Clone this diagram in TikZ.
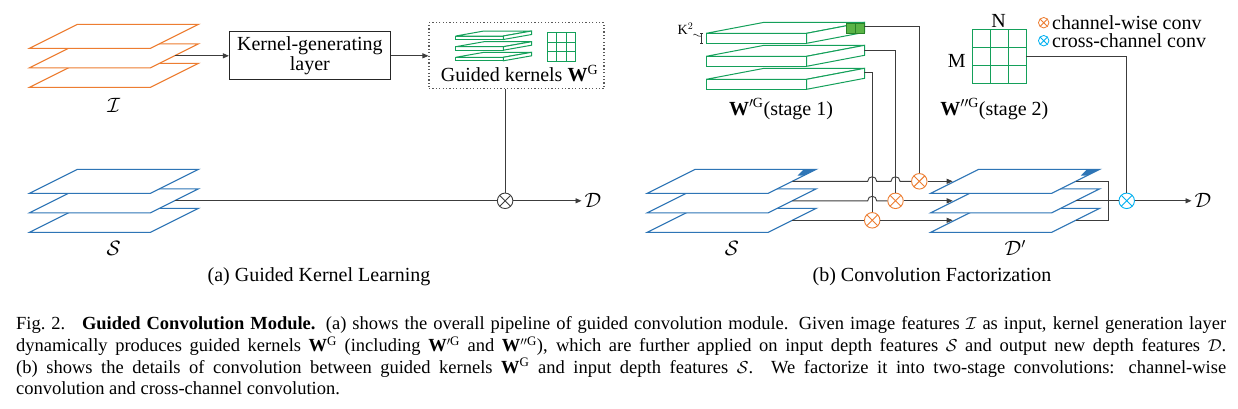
\documentclass[tikz,border=0pt]{standalone}
\usepackage{fontspec}
\setmainfont{Liberation Serif}
\usetikzlibrary{arrows.meta,calc}
\definecolor{forange}{RGB}{237,125,49}
\definecolor{fblue}{RGB}{46,117,182}
\definecolor{kgreen}{RGB}{20,160,90}
\definecolor{kgreenfill}{RGB}{90,180,70}
\definecolor{kgreendark}{RGB}{40,130,40}
\definecolor{fcyan}{RGB}{0,176,240}
\definecolor{cgray}{RGB}{60,60,60}
\tikzset{
  planestyle/.style={fill=white,line width=1.1pt,line join=miter},
  slabstyle/.style={fill=white,draw=kgreen,line width=1pt},
  conn/.style={draw=cgray,line width=0.9pt},
  arr/.style={conn,-{Triangle[length=6pt,width=5pt]}},
  lbl/.style={font=\fontsize{20}{20}\selectfont,inner sep=0pt},
  ox/.style={circle,draw=#1,fill=white,minimum size=15.5pt,inner sep=0pt,line width=0.9pt,
    path picture={\draw[#1,line width=0.9pt] (path picture bounding box.north west)--(path picture bounding box.south east) (path picture bounding box.north east)--(path picture bounding box.south west);}},
  oxs/.style={ox=#1,minimum size=10.5pt,line width=0.8pt},
  kbox/.style={draw=black!85,line width=1pt,minimum width=161pt,minimum height=48pt,align=center,font=\fontsize{20}{20}\selectfont,inner sep=0pt},
  dotbox/.style={draw=gray!70!black,line width=1.1pt,dash pattern=on 1.2pt off 2.2pt,minimum width=175pt,minimum height=66pt,inner sep=0pt}
}
% feature plane: x0, y bottom, colour, name
\newcommand\featplane[4]{%
  \filldraw[planestyle,draw=#3] (#1,#2) -- ++(121,0) -- ++(48,-24) -- ++(-121,0) -- cycle;
  \coordinate (#4r) at ({#1+145},{#2-12});
  \coordinate (#4l) at ({#1+24},{#2-12});
}
% kernel slab: x, y (front top), w, h, dx, dy
\newcommand\kslab[6]{%
  \filldraw[slabstyle] (#1,#2) rectangle ({#1+#3},{#2+#4});
  \filldraw[slabstyle] (#1,#2) -- ++(#5,#6) -- ++(#3,0) -- ({#1+#3},#2) -- cycle;
  \filldraw[slabstyle] ({#1+#3},#2) -- ++(#5,#6) -- ++(0,#4) -- ({#1+#3},{#2+#4}) -- cycle;
}
\begin{document}
\begin{tikzpicture}[x=1pt,y=-1pt]
\useasboundingbox (0,0) rectangle (1238,408);
\fill[white] (0,0) rectangle (1238,408);

% ================= Panel (a) =================
\featplane{29.6}{87.3}{forange}{Ib}
\featplane{29.6}{67.8}{forange}{Im}
\featplane{29.6}{48.3}{forange}{It}
\featplane{29.6}{232.3}{fblue}{Sb}
\featplane{29.6}{212.8}{fblue}{Sm}
\featplane{29.6}{193.3}{fblue}{St}

\node[lbl] (Ilab) at (113.8,105) {$\mathcal{I}$};
\node[lbl] (Slab) at (113.8,248) {$\mathcal{S}$};

\node[kbox] (kgl) at (309.9,55.8) {Kernel-generating\\layer};
\node[dotbox] (wg) at (516.5,55.8) {};
\draw[arr] (Imr) -- (kgl.west);
\draw[arr] (kgl.east) -- (wg.west);

\kslab{455.7}{57.3}{47.6}{3.5}{28.3}{-5}
\kslab{455.7}{46.7}{47.6}{3.5}{28.3}{-5}
\kslab{455.7}{36}{47.6}{3.5}{28.3}{-5}
\draw[kgreen,line width=1pt] (547.3,32.5) rectangle (575.7,61);
\foreach \i in {1,2}{
  \draw[kgreen,line width=0.8pt] ({547.3+\i*28.4/3},32.5) -- ({547.3+\i*28.4/3},61);
  \draw[kgreen,line width=0.8pt] (547.3,{32.5+\i*28.5/3}) -- (575.7,{32.5+\i*28.5/3});
}
\node[lbl,anchor=base] (wgt) at (519.5,81.7) {Guided kernels $\mathbf{W}^{\mathrm{G}}$};

\node[ox=cgray] (otA) at (505.1,200.8) {};
\draw[conn] (otA |- wg.south) -- (otA.north);
\draw[conn] (Smr) -- (otA.west);
\node[lbl,inner sep=3pt] (Da) at (593,200.8) {$\mathcal{D}$};
\draw[arr] (otA.east) -- (Da.west);

\node[lbl] (capa) at (319,277) {(a) Guided Kernel Learning};

% ================= Panel (b) =================
\kslab{706.2}{79.3}{100.4}{10}{58}{-11}
\kslab{706.2}{56.3}{100.4}{10}{58}{-11}
\kslab{706.2}{33.3}{100.4}{10}{58}{-11}
\filldraw[fill=kgreenfill,draw=kgreendark,line width=0.8pt] (846,23.3) rectangle (864.2,33);
\draw[kgreendark,line width=0.8pt] (855.2,23.3) -- (855.2,33);
\coordinate (k1) at (864.2,26.7);
\coordinate (k2) at (864.2,50);
\coordinate (k3) at (864.2,72.7);

\node[inner sep=0pt,font=\fontsize{14}{14}\selectfont] (ksq) at (685.5,29) {K$^2$};
\coordinate (kbt) at (701.7,33.3);
\coordinate (kbb) at (701.7,43.3);
\draw[black!80,line width=0.7pt] (ksq.south east) .. controls (695,32) and (697,37) .. ($(kbt)+(-1,3)$);
\draw[black!80,line width=0.7pt] (kbt) -- (kbb) ($(kbt)+(-1.5,0)$) -- ($(kbt)+(1.5,0)$) ($(kbb)+(-1.5,0)$) -- ($(kbb)+(1.5,0)$);

\node[lbl,anchor=base] (w1lab) at (781,115) {$\mathbf{W}'^{\mathrm{G}}$(stage 1)};

% stage-2 kernel grid
\draw[kgreen,line width=1pt] (972,29) rectangle (1026,83);
\foreach \i in {1,2}{
  \draw[kgreen,line width=0.9pt] ({972+\i*18},29) -- ({972+\i*18},83);
  \draw[kgreen,line width=0.9pt] (972,{29+\i*18}) -- (1026,{29+\i*18});
}
\coordinate (g2e) at (1026,56);
\node[lbl] (Nlab) at (998.7,21) {N};
\node[lbl] (Mlab) at (956.8,61) {M};
\node[lbl,anchor=base] (w2lab) at (994.4,115) {$\mathbf{W}''^{\mathrm{G}}$(stage 2)};

% legend
\node[oxs=forange] (lg1) at (1043.7,22.7) {};
\node[lbl,anchor=west] (lg1t) at (1052,22.7) {channel-wise conv};
\node[oxs=fcyan] (lg2) at (1043.7,40.7) {};
\node[lbl,anchor=west] (lg2t) at (1052,40.7) {cross-channel conv};

% S planes and D' planes
\featplane{647.3}{232.3}{fblue}{STb}
\featplane{647.3}{212.8}{fblue}{STm}
\featplane{647.3}{193.3}{fblue}{STt}
\fill[fblue] (816.3,169.3) -- (803,170) -- (797.5,175.5) -- (804,175.5) -- cycle;
\featplane{930.7}{232.3}{fblue}{DPb}
\featplane{930.7}{212.8}{fblue}{DPm}
\featplane{930.7}{193.3}{fblue}{DPt}
\fill[fblue] (1099.7,169.3) -- (1086.4,170) -- (1080.9,175.5) -- (1087.4,175.5) -- cycle;

\node[lbl] (S2lab) at (731.8,248) {$\mathcal{S}$};
\node[lbl] (Dplab) at (1015.2,248) {$\mathcal{D}'$};

% channel-wise otimes
\node[ox=forange] (ot3) at (872.2,220.3) {};
\node[ox=forange] (ot2) at (895.5,200.8) {};
\node[ox=forange] (ot1) at (919.3,181.3) {};

\coordinate (ja) at (ot3 |- STtr);
\coordinate (jb) at (ot2 |- STtr);
\coordinate (jc) at (ot3 |- STmr);
\draw[conn] (STtr) -- ($(ja)+(-4.5,0)$) .. controls ($(ja)+(-4.5,-6)$) and ($(ja)+(4.5,-6)$) .. ($(ja)+(4.5,0)$)
  -- ($(jb)+(-4.5,0)$) .. controls ($(jb)+(-4.5,-6)$) and ($(jb)+(4.5,-6)$) .. ($(jb)+(4.5,0)$) -- (ot1.west);
\draw[conn] (STmr) -- ($(jc)+(-4.5,0)$) .. controls ($(jc)+(-4.5,-6)$) and ($(jc)+(4.5,-6)$) .. ($(jc)+(4.5,0)$) -- (ot2.west);
\draw[conn] (STbr) -- (ot3.west);

\draw[conn] (k1) -| (ot1.north);
\draw[conn] (k2) -| (ot2.north);
\draw[conn] (k3) -| (ot3.north);

\draw[arr] (ot1.east) -- ($(DPtl)+(-2,0)$);
\draw[arr] (ot2.east) -- ($(DPml)+(-2,0)$);
\draw[arr] (ot3.east) -- ($(DPbl)+(-2,0)$);

% cross-channel
\node[ox=fcyan] (otC) at (1126.7,200.8) {};
\coordinate (brk) at (1108.7,200.8);
\draw[conn] (DPtr) -| (brk) |- (DPbr);
\draw[conn] (DPmr) -- (otC.west);
\draw[conn] (g2e) -| (otC.north);
\node[lbl,inner sep=3pt] (Db) at (1203,200.8) {$\mathcal{D}$};
\draw[arr] (otC.east) -- (Db.west);

\node[lbl] (capb) at (932,277) {(b) Convolution Factorization};

% ================= Caption =================
\node[anchor=north west,text width=1210pt,inner sep=0pt,align=justify,font=\fontsize{18.5}{21.7}\selectfont] (cap) at (16,316.5) {%
Fig.~2.\hspace{0.9em}\textbf{Guided Convolution Module.} (a) shows the overall pipeline of guided convolution module. Given image features $\mathcal{I}$ as input, kernel generation layer\linebreak
dynamically produces guided kernels $\mathbf{W}^{\mathrm{G}}$ (including $\mathbf{W}'^{\mathrm{G}}$ and $\mathbf{W}''^{\mathrm{G}}$), which are further applied on input depth features $\mathcal{S}$ and output new depth features $\mathcal{D}$.\linebreak
(b) shows the details of convolution between guided kernels $\mathbf{W}^{\mathrm{G}}$ and input depth features $\mathcal{S}$. We factorize it into two-stage convolutions: channel-wise\linebreak
convolution and cross-channel convolution.};
\end{tikzpicture}
\end{document}
